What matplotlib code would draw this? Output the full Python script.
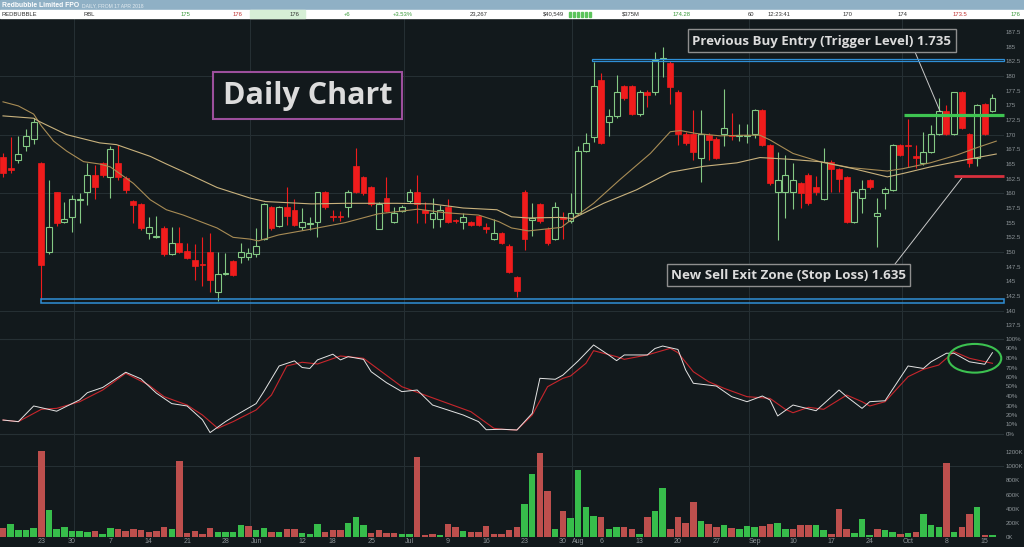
import matplotlib
matplotlib.use("Agg")
import matplotlib.pyplot as plt
from matplotlib.patches import Rectangle, Ellipse
import numpy as np

# ---------------- data ----------------
opens = [166.2,164.3,165.6,168.1,169.2,165.1,150.05,160.2,155.1,156.0,
         158.9,160.2,163.1,165.1,162.7,165.1,162.6,158.7,158.1,153.2,
         152.6,154.1,149.7,151.6,150.1,148.6,148.0,150.05,143.1,146.2,
         148.5,149.1,149.1,149.6,152.2,157.6,154.5,157.6,157.2,154.2,
         154.8,155.1,160.2,156.2,156.1,157.6,164.7,162.7,161.1,154.0,
         159.2,155.1,157.0,158.7,160.2,157.2,155.6,155.6,157.6,155.4,
         155.1,155.1,156.1,154.2,152.2,153.2,151.0,145.7,160.2,155.5,
         158.1,154.0,152.2,156.0,155.2,156.6,167.2,169.6,179.3,172.2,
         173.1,178.3,178.3,173.6,177.2,177.2,182.9,182.3,177.2,170.1,
         170.1,166.1,169.9,169.3,170.1,169.9,169.7,169.8,170.1,174.2,
         168.2,160.2,160.2,160.2,161.7,163.1,161.1,159.1,165.3,164.1,
         162.7,155.1,159.2,162.2,156.1,160.0,160.6,168.2,168.3,166.3,
         165.1,167.1,170.1,174.1,170.1,177.2,170.1,166.1,175.2,174.1]
highs = [166.8,169.6,169.7,170.9,172.9,165.3,162.3,160.3,158.6,159.7,
         160.0,165.1,164.8,165.3,168.0,168.2,162.9,158.9,158.3,156.0,
         156.1,154.4,154.2,154.2,151.5,151.4,152.5,153.2,150.05,149.8,
         148.7,151.6,150.6,154.1,158.4,157.9,157.8,161.1,159.0,157.5,
         156.0,160.3,160.4,157.2,157.0,160.5,167.7,163.0,161.3,158.5,
         162.7,157.7,158.0,160.8,163.1,158.5,159.2,158.0,159.0,155.6,
         156.7,155.3,156.3,155.0,155.7,153.4,151.3,145.9,160.6,158.4,
         158.4,154.2,158.6,156.9,160.0,168.0,170.2,182.4,180.5,174.3,
         180.2,178.5,178.5,177.6,177.6,184.1,185.0,182.5,177.6,170.4,
         174.2,174.2,170.2,169.6,177.7,173.7,171.8,171.8,174.3,174.4,
         168.4,167.1,166.5,165.2,162.0,163.4,163.0,167.7,165.6,164.4,
         162.9,160.5,162.3,162.4,159.2,161.1,168.4,168.4,172.6,168.2,
         170.5,171.6,176.2,175.1,177.3,177.4,170.3,175.2,175.4,177.0]
lows = [162.8,163.5,165.1,167.3,168.4,142.0,149.7,154.5,155.0,153.4,
        155.0,158.0,159.0,162.8,159.2,162.3,160.0,154.9,153.8,152.2,
        152.4,149.4,149.5,149.8,148.8,145.2,144.2,143.2,141.6,146.1,
        145.9,148.1,148.6,149.2,152.0,153.8,154.3,154.6,154.4,153.7,
        153.7,152.6,157.3,155.3,155.2,156.0,160.0,159.8,157.8,153.9,
        156.8,154.9,156.9,158.3,154.9,154.9,154.1,154.3,154.9,155.0,
        154.0,154.4,154.4,153.2,152.1,151.3,146.5,142.4,150.3,152.8,
        155.0,151.2,152.0,152.3,154.9,156.3,167.0,168.8,168.4,169.8,
        172.9,175.9,173.3,173.2,174.7,176.8,179.9,175.3,168.2,168.3,
        165.7,162.0,165.7,165.9,168.0,169.1,169.0,168.5,169.5,168.0,
        161.5,152.1,155.8,157.4,157.5,158.0,159.8,158.9,160.3,160.2,
        154.9,155.0,156.6,160.8,150.9,157.4,160.4,166.3,164.5,164.3,
        164.9,166.9,169.9,169.9,169.9,170.9,164.5,164.7,169.9,173.9]
closes = [163.5,164.0,166.7,169.8,172.2,147.7,154.2,155.0,155.6,159.0,
          159.1,163.1,161.1,163.1,167.6,162.7,160.6,158.0,154.1,154.2,
          152.8,149.6,151.6,150.0,149.0,147.6,147.7,145.2,146.2,146.4,
          146.1,150.05,149.8,151.0,158.1,154.1,157.6,156.1,154.6,155.1,
          155.0,160.2,157.6,156.0,155.9,160.2,160.2,160.0,158.1,158.1,
          157.0,156.6,157.6,160.2,158.1,156.7,156.7,157.2,155.1,155.2,
          156.0,154.6,154.6,154.0,153.2,151.5,146.6,143.4,152.2,155.8,
          155.2,151.5,157.6,155.6,156.6,167.2,168.6,178.3,168.6,173.1,
          177.3,176.2,173.6,177.2,176.7,182.7,183.1,178.1,170.1,168.6,
          167.0,170.1,169.1,166.1,171.2,169.7,169.9,170.0,174.2,168.2,
          161.7,162.2,163.1,162.2,160.1,158.4,160.2,165.3,164.1,162.5,
          155.1,160.2,160.7,161.0,156.6,160.7,168.2,166.5,168.0,166.0,
          167.1,170.1,174.1,170.1,177.2,171.1,165.1,175.1,170.1,176.2]
volume_k = [122,188,104,99,122,1214,381,113,141,89,
            85,66,85,42,122,108,85,108,99,75,
            85,146,113,1073,56,89,47,122,66,66,
            66,174,155,99,122,75,71,108,108,56,
            47,183,66,99,99,198,287,165,56,99,
            56,56,47,47,1125,24,47,33,183,141,
            85,75,66,155,47,47,99,146,466,889,
            1190,654,108,367,268,950,419,296,278,113,
            146,146,108,42,287,362,696,108,287,198,
            500,226,179,146,170,127,113,155,146,155,
            188,198,113,113,170,170,170,104,42,390,
            113,56,250,28,113,99,75,42,56,75,
            320,165,141,1040,71,146,320,424,24,24]
volume_dir = ("RGGGGRGGGGGGRGGRRRRRRRGRRRRRGGGGRGGRGRRGGGRRRGGGRRRRGG"
              "RRRGRRGRRRRRRRGGRRGRGGGGRGGRRGRGGRRRRGRRGRGGGRRGGRRRGG"
              "RRRGGGRGGRGRGGGRGRRGRG")

ma_fast_idx = [0,2,4,5,6.6,8.3,10.5,12.6,14,17,19.2,21.3,23.5,25.7,27.9,30,32.2,33.3,
               35.9,40.2,44.6,48.9,54.1,57.6,62,64.6,66.3,68.5,72.8,74.3,77,80.4,84.4,
               87,88.3,90.4,93.5,96.5,98.7,100,103,106.5,110.4,115.3,117.3,120.9,124.3,
               127,129.5]
ma_fast_val = [175.6,174.9,173.5,171.5,168.9,167.2,165.4,165.0,164.5,161.7,158.9,157.2,
               156.3,155.2,154.1,152.5,152.2,151.9,152.9,153.9,155.0,156.5,157.3,156.7,
               156.3,155.2,154.1,153.6,154.2,155.7,158.3,162.3,166.8,170.5,170.7,170.2,
               169.8,169.9,169.9,169.1,166.8,165.4,164.4,163.8,164.2,165.2,166.5,167.8,
               168.9]
ma_slow_idx = [0,4,4.8,8.3,12.6,14.8,19.2,21.3,23.5,27.9,32.2,34.2,40.2,44.6,51.3,55.9,
               60,64.4,66.3,68.5,72.8,74.3,78.3,82.6,87,91.3,95.7,98.7,102.6,106.5,110.9,
               115.3,117.4,120.9,124.3,127,129.5]
ma_slow_val = [173.2,172.8,172.2,170.0,168.6,168.3,166.3,165.0,163.7,161.0,159.2,158.6,
               158.2,158.3,158.3,158.2,157.5,157.2,156.0,155.8,155.9,155.7,158.3,160.6,
               163.6,164.6,165.2,166.1,165.8,165.4,164.2,162.8,163.4,164.5,165.4,166.1,
               166.7]

stoch_k_idx = [0,2,4,7,10,11,13,16,18,20,22,24,26,27,29,30,33,34,36,38,39,40,41,43,44,45,
               47,48,50,52,54,56,60,62,63,65,67,69,70,72,73,75,77,79,80,81,84,85,86,88,89,
               90,93,95,97,99,100,101,103,106,109,110,112,113,115,118,120,121,123,124,126,
               128,129]
stoch_k_val = [14.7,13,29.5,24,36,43.5,49,65,58,43,32,29.5,15,1.5,13,18,32,44.6,71.6,77,
               70,69,78,84,78,81.4,78.6,65.6,54,44.6,46.3,30.5,20,13,4.5,5,4.2,21.8,58.6,
               57.6,62,77,93.7,83,77.2,83.2,83.2,90,92.6,89,67.4,53.4,50.5,39.3,34,40,35.8,
               19,30.5,24.5,46.3,39.3,27,34,35,71.6,69,76,85,85,76,73.4,85.6]
stoch_d_idx = [0,2,5,7,10,13,16,19,21,24,26,28,30,33,35,37,39,41,44,47,52,55,61,64,65,67,
               69,71,73,74,76,77,80,81,84,87,88,90,92,94,97,100,102,103,105,107,110,112,
               113,115,118,120,122,124,126,129]
stoch_d_val = [14.7,13,26,27,34,46.3,63.9,51.6,39.3,30.5,20,6,13,25.3,41,71.6,75.5,73.7,
               82.1,79.7,49.8,41,23.5,6,5,4.2,20,49.8,58.6,61.1,74.4,87.7,81.4,78.6,83.2,
               90.2,85.6,65.6,55,48.1,39.3,37.5,26,22.4,28.1,26,41,34,29.5,34,60.3,68.1,
               72.6,86.6,79.7,74.4]

tick_idx = [5,9,14,19,24,29,33,39,43,48,53,58,63,68,73,75,78,83,88,93,98,103,108,113,
            118,123,128]
tick_lbl = ["23","30","7","14","21","28","Jun","12","18","25","Jul","9","16","23","30",
            "Aug","6","13","20","27","Sep","10","17","24","Oct","8","15"]
month_start_idx = [10,33,53,75,98,118]

support_level = (141.35, 142.0)     # lower blue double line
resist_level = (182.6, 182.85)      # upper blue double line
trigger_level = 173.4
stop_level = 163.0

header_title = "Redbubble Limited FPO"
header_sub = "DAILY, FROM 17 APR 2018"
header_cells = [(1,"REDBUBBLE","#333333"),(84,"RBL","#333333"),(181,"175","#3a9a3a"),
                (233,"176","#c03030"),(290,"176","#333333"),(344,"+6","#3a9a3a"),
                (393,"+3.53%","#3a9a3a"),(470,"23,267","#333333"),(543,"$40,549","#333333"),
                (622,"$375M","#333333"),(673,"174.28","#3a9a3a"),(748,"60","#333333"),
                (768,"12:23:41","#333333"),(843,"170","#333333"),(898,"174","#333333"),
                (953,"173.5","#c03030"),(1011,"176","#3a9a3a")]

# ---------------- style / layout ----------------
BG = "#12191c"
GRID = "#263034"
TXT = "#8d9498"
UP = "#84c984"
DN = "#f01c1c"
VUP = "#37bd4b"
VDN = "#bd4f4d"
W, H = 1024, 547
X0, DX = 3.0, 7.67          # pixel of first candle, pixels per candle
RIGHT = 1004
LBLFONT = "Liberation Sans"

fig = plt.figure(figsize=(W/100, H/100), dpi=100, facecolor=BG)

def make_ax(top, bottom):
    a = fig.add_axes([0, 1-bottom/H, RIGHT/W, (bottom-top)/H])
    a.set_facecolor(BG)
    for s in a.spines.values():
        s.set_visible(False)
    a.set_xlim((0-X0)/DX, (RIGHT-X0)/DX)
    a.yaxis.tick_right()
    a.tick_params(axis="y", length=0, pad=1.2, labelsize=4.4, labelcolor=TXT)
    a.tick_params(axis="x", length=0, labelbottom=False)
    a.set_xticks([])
    for m in month_start_idx:
        a.axvline(m-0.75, color=GRID, lw=0.7, zorder=0)
    return a

ax_p = make_ax(18, 332)
ax_s = make_ax(332, 440)
ax_v = make_ax(440, 537)

# price axis scaling: 187.5 at y=32 px, 5.8667 px per unit
pp = lambda y: 187.5 - (y-32)/5.8667
ax_p.set_ylim(pp(332), pp(18))
pticks = np.arange(137.5, 188, 2.5)
ax_p.set_yticks(pticks)
ax_p.set_yticklabels([f"{v:g}" for v in pticks], family=LBLFONT)
for lv in [140,150,160,170,180]:
    ax_p.axhline(lv, color=GRID, lw=0.7, zorder=0)

# candles
w = 0.76
for i,(o,h,l,c) in enumerate(zip(opens,highs,lows,closes)):
    top, bot = max(o,c), min(o,c)
    if c >= o:
        ax_p.vlines(i, top, h, color=UP, lw=0.8, zorder=2)
        ax_p.vlines(i, l, bot, color=UP, lw=0.8, zorder=2)
        ax_p.add_patch(Rectangle((i-w/2, bot), w, max(top-bot, 0.08), fill=False,
                                 edgecolor=UP, lw=0.8, zorder=3))
    else:
        ax_p.vlines(i, l, h, color=DN, lw=0.8, zorder=2)
        ax_p.add_patch(Rectangle((i-w/2, bot), w, max(top-bot, 0.08), facecolor=DN,
                                 edgecolor=DN, lw=0.5, zorder=3))

ax_p.plot(ma_fast_idx, ma_fast_val, color="#a88c55", lw=0.8, zorder=4)
ax_p.plot(ma_slow_idx, ma_slow_val, color="#c9b27d", lw=0.8, zorder=4)

xr = (RIGHT-X0)/DX
ax_p.add_patch(Rectangle((5, support_level[0]), xr-5, support_level[1]-support_level[0],
                         fill=False, edgecolor="#2f8fd6", lw=1.1, zorder=5, clip_on=False))
ax_p.add_patch(Rectangle((76.8, resist_level[0]), xr-76.8, resist_level[1]-resist_level[0],
                         fill=False, edgecolor="#2f8fd6", lw=0.9, zorder=5, clip_on=False))
ax_p.plot([117.5, xr], [trigger_level]*2, color="#3ec451", lw=2.3, zorder=6,
          solid_capstyle="butt", clip_on=False)
ax_p.plot([124.0, xr], [stop_level]*2, color="#d8303d", lw=2.0, zorder=6,
          solid_capstyle="butt", clip_on=False)

# stochastic
sv = lambda y: (434-y)/0.95
ax_s.set_ylim(sv(440), sv(332))
sticks = np.arange(0, 101, 10)
ax_s.set_yticks(sticks)
ax_s.set_yticklabels([f"{v}%" for v in sticks], family=LBLFONT)
ax_s.axhline(0, color=GRID, lw=0.8, zorder=0)
ax_s.axhline(100, color=GRID, lw=0.8, zorder=0)
ax_s.plot(stoch_d_idx, stoch_d_val, color="#c8262c", lw=0.8, zorder=3)
ax_s.plot(stoch_k_idx, stoch_k_val, color="#e4e4e4", lw=0.7, zorder=4)
ax_s.add_patch(Ellipse((126.7, 79.7), 6.9, 30.2, fill=False, edgecolor="#3cc150",
                       lw=1.5, zorder=5))

# volume
vk = lambda y: (537-y)/0.070833
ax_v.set_ylim(0, vk(440))
vticks = np.arange(0, 1201, 200)
ax_v.set_yticks(vticks)
ax_v.set_yticklabels([f"{v}K" for v in vticks], family=LBLFONT)
ax_v.axhline(1000, color=GRID, lw=0.7, zorder=0)
ax_v.bar(range(len(volume_k)), volume_k, width=0.84,
         color=[VUP if d == "G" else VDN for d in volume_dir], zorder=2)
ax_v.set_xticks(tick_idx)
ax_v.set_xticklabels(tick_lbl, family=LBLFONT)
ax_v.tick_params(axis="x", labelbottom=True, labelsize=5, labelcolor=TXT, pad=0.5)

# annotation leader lines
lc = "#c9c9c9"
ax_p.annotate("", xy=(122.2, 173.9), xycoords="data", xytext=(915/W, 1-52/H),
              textcoords="figure fraction", annotation_clip=False,
              arrowprops=dict(arrowstyle="-", color=lc, lw=0.7, shrinkA=0, shrinkB=0))
ax_p.annotate("", xy=(125.0, 162.6), xycoords="data", xytext=(895/W, 1-264/H),
              textcoords="figure fraction", annotation_clip=False,
              arrowprops=dict(arrowstyle="-", color=lc, lw=0.7, shrinkA=0, shrinkB=0))

# overlay in pixel coordinates
ov = fig.add_axes([0, 0, 1, 1])
ov.set_xlim(0, W); ov.set_ylim(H, 0); ov.axis("off"); ov.patch.set_alpha(0)

ov.add_patch(Rectangle((0, 0), W, 10, color="#8fb0c5", zorder=1))
ov.add_patch(Rectangle((0, 10), W, 8, color="#ffffff", zorder=1))
ov.add_patch(Rectangle((250, 10), 55, 8, color="#d6efd6", zorder=1))
ov.text(2, 5.2, header_title, color="#ffffff", fontsize=4.9, fontweight="bold",
        family=LBLFONT, va="center", ha="left", zorder=2)
ov.text(82, 5.4, header_sub, color="#e4ecf1", fontsize=3.6, family=LBLFONT,
        va="center", ha="left", zorder=2)
for x, t, c in header_cells:
    ov.text(x, 14.2, t, color=c, fontsize=4.2, family=LBLFONT,
            va="center", ha="left", zorder=2)
for k in range(6):
    ov.add_patch(Rectangle((569+k*4, 11.5), 1.6, 5.5, color="#5cc45c", zorder=2))

def box(x0, y0, x1, y1, text, edge, size, lw):
    ov.add_patch(Rectangle((x0, y0), x1-x0, y1-y0, facecolor=BG, edgecolor=edge,
                           lw=lw, zorder=5))
    ov.text((x0+x1)/2, (y0+y1)/2+0.5, text, color="#dcdcdc", fontsize=size,
            fontweight="bold", family=["Open Sans", "DejaVu Sans"],
            ha="center", va="center", zorder=6)

box(213, 72, 402, 119, "Daily Chart", "#9c4f9c", 22, 1.5)
box(688, 29, 956, 52, "Previous Buy Entry (Trigger Level) 1.735", "#8f8f8f", 9.5, 1.0)
box(667, 264, 910, 286, "New Sell Exit Zone (Stop Loss) 1.635", "#8f8f8f", 9.6, 1.0)

fig.savefig("out.png", dpi=100, facecolor=BG)
